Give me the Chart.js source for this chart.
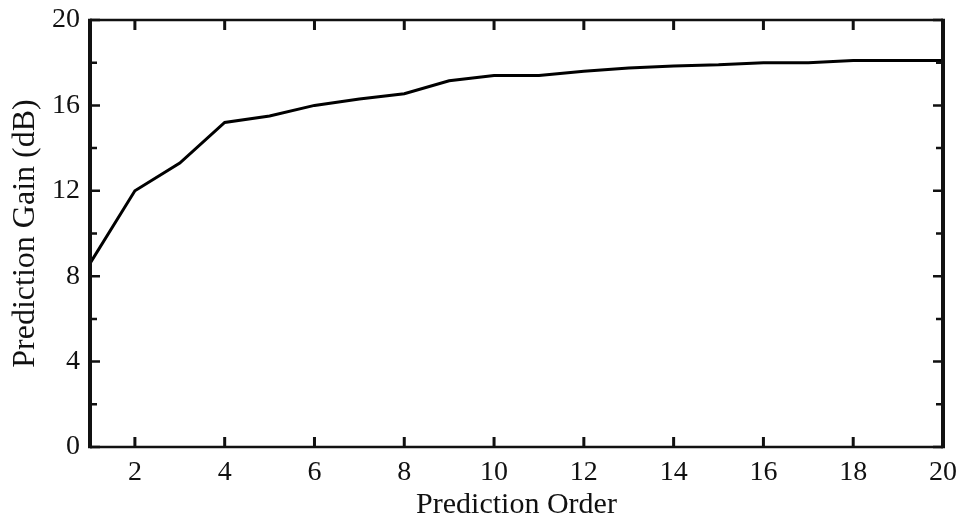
<!DOCTYPE html>
<html>
<head>
<meta charset="utf-8">
<script src="https://cdn.jsdelivr.net/npm/chart.js@4.4.1/dist/chart.umd.min.js"></script>
<style>
  html, body { margin: 0; padding: 0; background: #fff; }
  #wrap { width: 959px; height: 517px; position: relative; }
</style>
</head>
<body>
<div id="wrap"><canvas id="c"></canvas></div>
<script>
// ---- data ----
const orders = [1, 2, 3, 4, 5, 6, 7, 8, 9, 10, 11, 12, 13, 14, 15, 16, 17, 18, 19, 20];
const gainDb = [8.6, 12.0, 13.3, 15.2, 15.5, 16.0, 16.3, 16.55, 17.15, 17.4, 17.4, 17.6, 17.75, 17.85, 17.9, 18.0, 18.0, 18.1, 18.1, 18.1];
const xTickValues = [2, 4, 6, 8, 10, 12, 14, 16, 18, 20];
const yLabelValues = [0, 4, 8, 12, 16, 20];
const yMinorValues = [2, 6, 10, 14, 18];
const xTitle = 'Prediction Order';
const yTitle = 'Prediction Gain (dB)';

const FONT = 'Liberation Serif, Times New Roman, serif';
const INK = '#111';

// Draws the boxed frame with inward tick marks, using the scales' own pixel mapping
const frameTicks = {
  id: 'frameTicks',
  afterDatasetsDraw(chart) {
    const { ctx, chartArea: a, scales: { x, y } } = chart;
    ctx.save();
    ctx.strokeStyle = INK;
    ctx.lineCap = 'butt';
    ctx.lineWidth = 3;
    x.ticks.forEach(t => {
      const px = x.getPixelForValue(t.value);
      ctx.beginPath();
      ctx.moveTo(px, a.bottom); ctx.lineTo(px, a.bottom - 10);
      ctx.moveTo(px, a.top); ctx.lineTo(px, a.top + 10);
      ctx.stroke();
    });
    ctx.lineWidth = 2.5;
    y.ticks.forEach(t => {
      const py = y.getPixelForValue(t.value);
      const len = yLabelValues.includes(t.value) ? 10 : 7;
      ctx.beginPath();
      ctx.moveTo(a.left, py); ctx.lineTo(a.left + len, py);
      ctx.moveTo(a.right, py); ctx.lineTo(a.right - len, py);
      ctx.stroke();
    });
    ctx.lineWidth = 2.4;
    ctx.beginPath();
    ctx.moveTo(a.left, a.top); ctx.lineTo(a.right, a.top);
    ctx.moveTo(a.left, a.bottom); ctx.lineTo(a.right, a.bottom);
    ctx.stroke();
    ctx.lineWidth = 4;
    ctx.beginPath();
    ctx.moveTo(a.left, a.top - 1.2); ctx.lineTo(a.left, a.bottom + 1.2);
    ctx.moveTo(a.right, a.top - 1.2); ctx.lineTo(a.right, a.bottom + 1.2);
    ctx.stroke();
    ctx.restore();
  }
};

new Chart(document.getElementById('c'), {
  type: 'line',
  data: {
    datasets: [{
      data: orders.map((o, i) => ({ x: o, y: gainDb[i] })),
      borderColor: '#000',
      borderWidth: 3,
      pointRadius: 0,
      tension: 0,
      fill: false
    }]
  },
  options: {
    responsive: true,
    maintainAspectRatio: false,
    animation: false,
    layout: { padding: { top: 20, right: 16, left: 0, bottom: 0 } },
    plugins: { legend: { display: false }, tooltip: { enabled: false } },
    scales: {
      x: {
        type: 'linear',
        min: 1, max: 20,
        afterBuildTicks: s => { s.ticks = xTickValues.map(v => ({ value: v })); },
        afterFit: s => { s.height = 70; s.paddingLeft = 0; s.paddingRight = 0; },
        grid: { display: true, drawOnChartArea: false, drawTicks: false },
        border: { display: false },
        ticks: { color: INK, font: { family: FONT, size: 28 }, padding: 9, maxRotation: 0, autoSkip: false },
        title: { display: true, text: xTitle, color: INK, font: { family: FONT, size: 30, lineHeight: 0.8 }, padding: { top: 0, bottom: 0 } }
      },
      y: {
        type: 'linear',
        min: 0, max: 20,
        afterBuildTicks: s => { s.ticks = yLabelValues.concat(yMinorValues).sort((a, b) => a - b).map(v => ({ value: v })); },
        afterFit: s => { s.width = 90; s.paddingTop = 0; s.paddingBottom = 0; },
        grid: { display: true, drawOnChartArea: false, drawTicks: false },
        border: { display: false },
        ticks: {
          color: INK, font: { family: FONT, size: 28 }, padding: 10, autoSkip: false,
          callback: v => yLabelValues.includes(v) ? String(v) : ''
        },
        title: { display: true, text: yTitle, color: INK, font: { family: FONT, size: 32, lineHeight: 1 }, padding: { top: 10, bottom: 0 } }
      }
    }
  },
  plugins: [frameTicks]
});
</script>
</body>
</html>
